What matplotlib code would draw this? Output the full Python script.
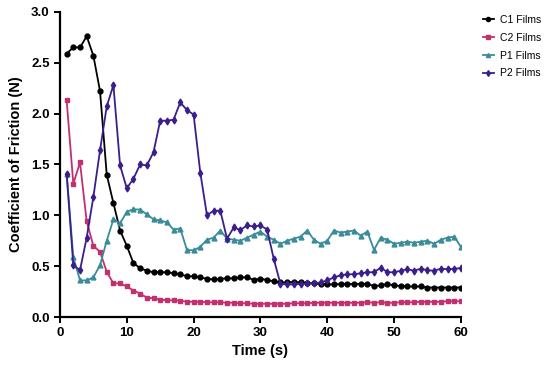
import matplotlib
matplotlib.use("Agg")
import matplotlib.pyplot as plt
import numpy as np

plt.rcParams['font.family'] = ['Liberation Sans', 'DejaVu Sans']

# time points (s)
time = np.arange(1, 61)

c1 = [2.59, 2.65, 2.65, 2.76, 2.57, 2.22, 1.40, 1.12, 0.85, 0.70,
      0.53, 0.48, 0.455, 0.44, 0.44, 0.44, 0.43, 0.42, 0.40, 0.40,
      0.39, 0.375, 0.37, 0.375, 0.38, 0.38, 0.39, 0.39, 0.365, 0.375,
      0.365, 0.35, 0.34, 0.34, 0.345, 0.34, 0.335, 0.33, 0.325, 0.32,
      0.32, 0.325, 0.325, 0.325, 0.325, 0.325, 0.305, 0.31, 0.325, 0.31,
      0.305, 0.30, 0.30, 0.30, 0.29, 0.29, 0.29, 0.29, 0.29, 0.29]

c2 = [2.13, 1.31, 1.52, 0.94, 0.70, 0.64, 0.445, 0.33, 0.33, 0.30,
      0.26, 0.23, 0.19, 0.185, 0.17, 0.165, 0.165, 0.16, 0.15, 0.15,
      0.15, 0.145, 0.145, 0.145, 0.14, 0.14, 0.135, 0.135, 0.13, 0.13,
      0.13, 0.13, 0.13, 0.13, 0.135, 0.135, 0.135, 0.14, 0.14, 0.14,
      0.14, 0.14, 0.14, 0.14, 0.14, 0.145, 0.14, 0.145, 0.14, 0.14,
      0.145, 0.145, 0.145, 0.15, 0.15, 0.15, 0.15, 0.155, 0.155, 0.155]

p1 = [1.41, 0.59, 0.36, 0.36, 0.39, 0.51, 0.75, 0.96, 0.92, 1.035,
      1.06, 1.055, 1.01, 0.96, 0.95, 0.93, 0.86, 0.87, 0.66, 0.655,
      0.69, 0.76, 0.78, 0.85, 0.77, 0.76, 0.75, 0.78, 0.81, 0.84,
      0.79, 0.76, 0.72, 0.75, 0.77, 0.79, 0.85, 0.76, 0.72, 0.75,
      0.85, 0.83, 0.84, 0.85, 0.80, 0.84, 0.66, 0.78, 0.76, 0.72,
      0.73, 0.74, 0.73, 0.74, 0.75, 0.72, 0.76, 0.78, 0.79, 0.69]

p2 = [1.41, 0.51, 0.46, 0.78, 1.18, 1.64, 2.07, 2.28, 1.49, 1.265,
      1.36, 1.50, 1.49, 1.62, 1.93, 1.93, 1.94, 2.11, 2.035, 1.99,
      1.42, 1.00, 1.045, 1.045, 0.77, 0.88, 0.855, 0.90, 0.89, 0.90,
      0.86, 0.57, 0.325, 0.32, 0.32, 0.325, 0.33, 0.33, 0.34, 0.36,
      0.39, 0.41, 0.42, 0.42, 0.43, 0.44, 0.44, 0.485, 0.44, 0.44,
      0.455, 0.47, 0.455, 0.475, 0.46, 0.455, 0.475, 0.47, 0.475, 0.48]

labels = ["C1 Films", "C2 Films", "P1 Films", "P2 Films"]
x_ticks = [0, 10, 20, 30, 40, 50, 60]
y_ticks = [0.0, 0.5, 1.0, 1.5, 2.0, 2.5, 3.0]

fig = plt.figure(figsize=(5.5, 3.65), dpi=100)
ax = fig.add_axes([0.109, 0.1315, 0.729, 0.836])

# 每條線的樣式
styles = [
    (c1, '#000000', 'o', 3.5),
    (c2, '#C2306E', 's', 3.2),
    (p1, '#3A8C99', '^', 3.5),
    (p2, '#3A1F8C', 'd', 3.5),
]
for (vals, col, mk, ms), lab in zip(styles, labels):
    ax.plot(time, vals, color=col, marker=mk, markersize=ms,
            linewidth=1.3, label=lab)

ax.set_xlim(0, 60)
ax.set_ylim(0, 3.0)
ax.set_xticks(x_ticks)
ax.set_yticks(y_ticks)
ax.set_yticklabels([f"{v:.1f}" for v in y_ticks])

for s in ['top', 'right']:
    ax.spines[s].set_visible(False)
for s in ['left', 'bottom']:
    ax.spines[s].set_linewidth(1.6)
ax.tick_params(direction='out', width=1.4, length=4, labelsize=9.5)
for t in ax.get_xticklabels() + ax.get_yticklabels():
    t.set_fontweight('bold')

ax.set_xlabel("Time (s)", fontsize=10.5, fontweight='bold', labelpad=3)
ax.set_ylabel("Coefficient of Friction (N)", fontsize=10.5,
              fontweight='bold', labelpad=6)

ax.legend(loc='upper left', bbox_to_anchor=(1.04, 1.01), frameon=False,
          fontsize=7.5, handlelength=1.0, handletextpad=0.6,
          markerscale=0.85, labelspacing=0.75, borderaxespad=0.2)

fig.savefig("out.png", dpi=100)
